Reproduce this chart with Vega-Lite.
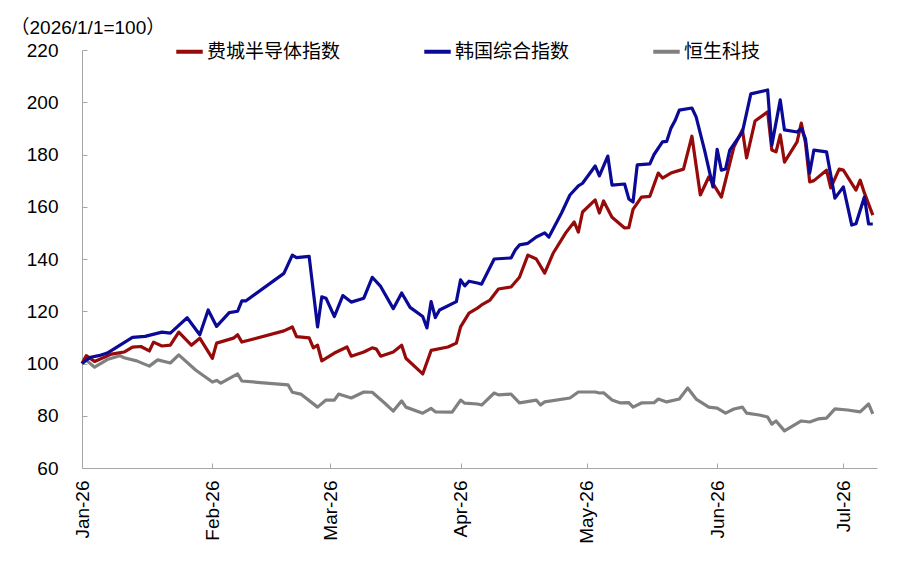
{
  "$schema": "https://vega.github.io/schema/vega-lite/v6.json",
  "width": 795,
  "height": 418,
  "autosize": {"type": "none"},
  "padding": {"left": 82, "top": 50, "right": 23, "bottom": 94},
  "background": "white",
  "config": {"view": {"stroke": null}, "font": "Liberation Sans"},
  "data": {
    "format": {"parse": {"d": "date:'%Y-%m-%d'"}},
    "values": [
      {"s": "恒生科技", "d": "2026-01-01", "v": 100},
      {"s": "恒生科技", "d": "2026-01-02", "v": 101.3},
      {"s": "恒生科技", "d": "2026-01-04", "v": 98.6},
      {"s": "恒生科技", "d": "2026-01-07", "v": 101.5},
      {"s": "恒生科技", "d": "2026-01-10", "v": 103},
      {"s": "恒生科技", "d": "2026-01-11", "v": 102.2},
      {"s": "恒生科技", "d": "2026-01-14", "v": 101},
      {"s": "恒生科技", "d": "2026-01-17", "v": 99},
      {"s": "恒生科技", "d": "2026-01-19", "v": 101.4},
      {"s": "恒生科技", "d": "2026-01-22", "v": 100.2},
      {"s": "恒生科技", "d": "2026-01-24", "v": 103.3},
      {"s": "恒生科技", "d": "2026-01-28", "v": 97.5},
      {"s": "恒生科技", "d": "2026-02-01", "v": 92.9},
      {"s": "恒生科技", "d": "2026-02-02", "v": 93.5},
      {"s": "恒生科技", "d": "2026-02-03", "v": 92.5},
      {"s": "恒生科技", "d": "2026-02-07", "v": 96},
      {"s": "恒生科技", "d": "2026-02-08", "v": 93.3},
      {"s": "恒生科技", "d": "2026-02-19", "v": 91.8},
      {"s": "恒生科技", "d": "2026-02-20", "v": 89},
      {"s": "恒生科技", "d": "2026-02-22", "v": 88.3},
      {"s": "恒生科技", "d": "2026-02-26", "v": 83.3},
      {"s": "恒生科技", "d": "2026-02-28", "v": 86},
      {"s": "恒生科技", "d": "2026-03-02", "v": 86},
      {"s": "恒生科技", "d": "2026-03-03", "v": 88.3},
      {"s": "恒生科技", "d": "2026-03-06", "v": 86.8},
      {"s": "恒生科技", "d": "2026-03-09", "v": 89.1},
      {"s": "恒生科技", "d": "2026-03-11", "v": 89},
      {"s": "恒生科技", "d": "2026-03-14", "v": 84.8},
      {"s": "恒生科技", "d": "2026-03-16", "v": 81.8},
      {"s": "恒生科技", "d": "2026-03-18", "v": 85.7},
      {"s": "恒生科技", "d": "2026-03-19", "v": 83.3},
      {"s": "恒生科技", "d": "2026-03-23", "v": 81},
      {"s": "恒生科技", "d": "2026-03-25", "v": 82.8},
      {"s": "恒生科技", "d": "2026-03-26", "v": 81.5},
      {"s": "恒生科技", "d": "2026-03-30", "v": 81.4},
      {"s": "恒生科技", "d": "2026-04-01", "v": 86},
      {"s": "恒生科技", "d": "2026-04-02", "v": 84.8},
      {"s": "恒生科技", "d": "2026-04-05", "v": 84.5},
      {"s": "恒生科技", "d": "2026-04-06", "v": 84.1},
      {"s": "恒生科技", "d": "2026-04-09", "v": 88.7},
      {"s": "恒生科技", "d": "2026-04-10", "v": 88},
      {"s": "恒生科技", "d": "2026-04-13", "v": 88.3},
      {"s": "恒生科技", "d": "2026-04-15", "v": 84.9},
      {"s": "恒生科技", "d": "2026-04-19", "v": 86},
      {"s": "恒生科技", "d": "2026-04-20", "v": 84.1},
      {"s": "恒生科技", "d": "2026-04-21", "v": 85.3},
      {"s": "恒生科技", "d": "2026-04-27", "v": 86.8},
      {"s": "恒生科技", "d": "2026-04-29", "v": 89.1},
      {"s": "恒生科技", "d": "2026-05-03", "v": 89.1},
      {"s": "恒生科技", "d": "2026-05-04", "v": 88.7},
      {"s": "恒生科技", "d": "2026-05-05", "v": 88.8},
      {"s": "恒生科技", "d": "2026-05-07", "v": 86},
      {"s": "恒生科技", "d": "2026-05-09", "v": 84.9},
      {"s": "恒生科技", "d": "2026-05-11", "v": 85},
      {"s": "恒生科技", "d": "2026-05-12", "v": 83.3},
      {"s": "恒生科技", "d": "2026-05-14", "v": 84.9},
      {"s": "恒生科技", "d": "2026-05-17", "v": 85},
      {"s": "恒生科技", "d": "2026-05-18", "v": 86.4},
      {"s": "恒生科技", "d": "2026-05-20", "v": 85.3},
      {"s": "恒生科技", "d": "2026-05-23", "v": 86.4},
      {"s": "恒生科技", "d": "2026-05-25", "v": 90.6},
      {"s": "恒生科技", "d": "2026-05-27", "v": 86.4},
      {"s": "恒生科技", "d": "2026-05-30", "v": 83.3},
      {"s": "恒生科技", "d": "2026-06-01", "v": 82.9},
      {"s": "恒生科技", "d": "2026-06-03", "v": 81},
      {"s": "恒生科技", "d": "2026-06-05", "v": 82.6},
      {"s": "恒生科技", "d": "2026-06-07", "v": 83.3},
      {"s": "恒生科技", "d": "2026-06-08", "v": 81},
      {"s": "恒生科技", "d": "2026-06-11", "v": 80.3},
      {"s": "恒生科技", "d": "2026-06-13", "v": 79.5},
      {"s": "恒生科技", "d": "2026-06-14", "v": 76.8},
      {"s": "恒生科技", "d": "2026-06-15", "v": 78},
      {"s": "恒生科技", "d": "2026-06-17", "v": 74.2},
      {"s": "恒生科技", "d": "2026-06-21", "v": 78},
      {"s": "恒生科技", "d": "2026-06-23", "v": 77.6},
      {"s": "恒生科技", "d": "2026-06-25", "v": 78.8},
      {"s": "恒生科技", "d": "2026-06-27", "v": 79.1},
      {"s": "恒生科技", "d": "2026-06-29", "v": 82.6},
      {"s": "恒生科技", "d": "2026-07-02", "v": 82.2},
      {"s": "恒生科技", "d": "2026-07-05", "v": 81.5},
      {"s": "恒生科技", "d": "2026-07-07", "v": 84.5},
      {"s": "恒生科技", "d": "2026-07-08", "v": 80.7},

      {"s": "费城半导体指数", "d": "2026-01-01", "v": 100},
      {"s": "费城半导体指数", "d": "2026-01-02", "v": 103},
      {"s": "费城半导体指数", "d": "2026-01-04", "v": 100.8},
      {"s": "费城半导体指数", "d": "2026-01-08", "v": 103.6},
      {"s": "费城半导体指数", "d": "2026-01-11", "v": 104.4},
      {"s": "费城半导体指数", "d": "2026-01-13", "v": 106.3},
      {"s": "费城半导体指数", "d": "2026-01-15", "v": 106.5},
      {"s": "费城半导体指数", "d": "2026-01-17", "v": 104.8},
      {"s": "费城半导体指数", "d": "2026-01-18", "v": 108.2},
      {"s": "费城半导体指数", "d": "2026-01-20", "v": 106.7},
      {"s": "费城半导体指数", "d": "2026-01-22", "v": 107},
      {"s": "费城半导体指数", "d": "2026-01-24", "v": 112},
      {"s": "费城半导体指数", "d": "2026-01-27", "v": 107},
      {"s": "费城半导体指数", "d": "2026-01-29", "v": 109.7},
      {"s": "费城半导体指数", "d": "2026-02-01", "v": 102},
      {"s": "费城半导体指数", "d": "2026-02-02", "v": 107.8},
      {"s": "费城半导体指数", "d": "2026-02-06", "v": 109.7},
      {"s": "费城半导体指数", "d": "2026-02-07", "v": 111},
      {"s": "费城半导体指数", "d": "2026-02-08", "v": 108.2},
      {"s": "费城半导体指数", "d": "2026-02-18", "v": 112.5},
      {"s": "费城半导体指数", "d": "2026-02-20", "v": 114},
      {"s": "费城半导体指数", "d": "2026-02-21", "v": 110.3},
      {"s": "费城半导体指数", "d": "2026-02-24", "v": 109.8},
      {"s": "费城半导体指数", "d": "2026-02-25", "v": 106},
      {"s": "费城半导体指数", "d": "2026-02-26", "v": 107},
      {"s": "费城半导体指数", "d": "2026-02-27", "v": 101},
      {"s": "费城半导体指数", "d": "2026-03-02", "v": 104},
      {"s": "费城半导体指数", "d": "2026-03-05", "v": 106.3},
      {"s": "费城半导体指数", "d": "2026-03-06", "v": 102.8},
      {"s": "费城半导体指数", "d": "2026-03-09", "v": 104.4},
      {"s": "费城半导体指数", "d": "2026-03-11", "v": 106},
      {"s": "费城半导体指数", "d": "2026-03-12", "v": 105.5},
      {"s": "费城半导体指数", "d": "2026-03-13", "v": 102.8},
      {"s": "费城半导体指数", "d": "2026-03-16", "v": 104.4},
      {"s": "费城半导体指数", "d": "2026-03-18", "v": 107},
      {"s": "费城半导体指数", "d": "2026-03-19", "v": 102},
      {"s": "费城半导体指数", "d": "2026-03-23", "v": 96},
      {"s": "费城半导体指数", "d": "2026-03-25", "v": 105},
      {"s": "费城半导体指数", "d": "2026-03-29", "v": 106.3},
      {"s": "费城半导体指数", "d": "2026-03-31", "v": 107.8},
      {"s": "费城半导体指数", "d": "2026-04-01", "v": 114},
      {"s": "费城半导体指数", "d": "2026-04-03", "v": 119.3},
      {"s": "费城半导体指数", "d": "2026-04-05", "v": 121.2},
      {"s": "费城半导体指数", "d": "2026-04-06", "v": 122.4},
      {"s": "费城半导体指数", "d": "2026-04-08", "v": 124.3},
      {"s": "费城半导体指数", "d": "2026-04-10", "v": 128.5},
      {"s": "费城半导体指数", "d": "2026-04-13", "v": 129.3},
      {"s": "费城半导体指数", "d": "2026-04-15", "v": 133},
      {"s": "费城半导体指数", "d": "2026-04-17", "v": 141.5},
      {"s": "费城半导体指数", "d": "2026-04-19", "v": 140},
      {"s": "费城半导体指数", "d": "2026-04-21", "v": 134.6},
      {"s": "费城半导体指数", "d": "2026-04-23", "v": 142.2},
      {"s": "费城半导体指数", "d": "2026-04-26", "v": 150},
      {"s": "费城半导体指数", "d": "2026-04-28", "v": 154.2},
      {"s": "费城半导体指数", "d": "2026-04-29", "v": 150.3},
      {"s": "费城半导体指数", "d": "2026-04-30", "v": 158},
      {"s": "费城半导体指数", "d": "2026-05-03", "v": 162.6},
      {"s": "费城半导体指数", "d": "2026-05-04", "v": 157.6},
      {"s": "费城半导体指数", "d": "2026-05-05", "v": 162.2},
      {"s": "费城半导体指数", "d": "2026-05-07", "v": 156},
      {"s": "费城半导体指数", "d": "2026-05-10", "v": 151.9},
      {"s": "费城半导体指数", "d": "2026-05-11", "v": 152},
      {"s": "费城半导体指数", "d": "2026-05-12", "v": 159},
      {"s": "费城半导体指数", "d": "2026-05-14", "v": 163.7},
      {"s": "费城半导体指数", "d": "2026-05-16", "v": 164},
      {"s": "费城半导体指数", "d": "2026-05-18", "v": 172.9},
      {"s": "费城半导体指数", "d": "2026-05-19", "v": 171},
      {"s": "费城半导体指数", "d": "2026-05-21", "v": 172.9},
      {"s": "费城半导体指数", "d": "2026-05-24", "v": 174.4},
      {"s": "费城半导体指数", "d": "2026-05-26", "v": 187},
      {"s": "费城半导体指数", "d": "2026-05-28", "v": 164.5},
      {"s": "费城半导体指数", "d": "2026-05-30", "v": 171.4},
      {"s": "费城半导体指数", "d": "2026-06-02", "v": 163.7},
      {"s": "费城半导体指数", "d": "2026-06-05", "v": 183},
      {"s": "费城半导体指数", "d": "2026-06-07", "v": 189.4},
      {"s": "费城半导体指数", "d": "2026-06-08", "v": 178.7},
      {"s": "费城半导体指数", "d": "2026-06-10", "v": 192.8},
      {"s": "费城半导体指数", "d": "2026-06-13", "v": 196.3},
      {"s": "费城半导体指数", "d": "2026-06-14", "v": 181.7},
      {"s": "费城半导体指数", "d": "2026-06-15", "v": 181},
      {"s": "费城半导体指数", "d": "2026-06-16", "v": 187.5},
      {"s": "费城半导体指数", "d": "2026-06-17", "v": 177.1},
      {"s": "费城半导体指数", "d": "2026-06-20", "v": 184.8},
      {"s": "费城半导体指数", "d": "2026-06-21", "v": 192},
      {"s": "费城半导体指数", "d": "2026-06-22", "v": 184.4},
      {"s": "费城半导体指数", "d": "2026-06-23", "v": 169.5},
      {"s": "费城半导体指数", "d": "2026-06-24", "v": 170},
      {"s": "费城半导体指数", "d": "2026-06-27", "v": 174},
      {"s": "费城半导体指数", "d": "2026-06-28", "v": 167.2},
      {"s": "费城半导体指数", "d": "2026-06-30", "v": 174.4},
      {"s": "费城半导体指数", "d": "2026-07-01", "v": 174},
      {"s": "费城半导体指数", "d": "2026-07-04", "v": 166.4},
      {"s": "费城半导体指数", "d": "2026-07-05", "v": 170.2},
      {"s": "费城半导体指数", "d": "2026-07-06", "v": 165.3},
      {"s": "费城半导体指数", "d": "2026-07-08", "v": 156.8},

      {"s": "韩国综合指数", "d": "2026-01-01", "v": 100},
      {"s": "韩国综合指数", "d": "2026-01-03", "v": 102.4},
      {"s": "韩国综合指数", "d": "2026-01-05", "v": 103},
      {"s": "韩国综合指数", "d": "2026-01-07", "v": 104},
      {"s": "韩国综合指数", "d": "2026-01-09", "v": 106},
      {"s": "韩国综合指数", "d": "2026-01-11", "v": 108},
      {"s": "韩国综合指数", "d": "2026-01-13", "v": 110},
      {"s": "韩国综合指数", "d": "2026-01-16", "v": 110.4},
      {"s": "韩国综合指数", "d": "2026-01-20", "v": 112},
      {"s": "韩国综合指数", "d": "2026-01-22", "v": 111.6},
      {"s": "韩国综合指数", "d": "2026-01-26", "v": 117.5},
      {"s": "韩国综合指数", "d": "2026-01-29", "v": 111},
      {"s": "韩国综合指数", "d": "2026-01-31", "v": 120.5},
      {"s": "韩国综合指数", "d": "2026-02-02", "v": 114.2},
      {"s": "韩国综合指数", "d": "2026-02-05", "v": 119.5},
      {"s": "韩国综合指数", "d": "2026-02-07", "v": 120},
      {"s": "韩国综合指数", "d": "2026-02-08", "v": 124},
      {"s": "韩国综合指数", "d": "2026-02-09", "v": 124},
      {"s": "韩国综合指数", "d": "2026-02-18", "v": 134.5},
      {"s": "韩国综合指数", "d": "2026-02-20", "v": 141.5},
      {"s": "韩国综合指数", "d": "2026-02-21", "v": 140.5},
      {"s": "韩国综合指数", "d": "2026-02-24", "v": 141},
      {"s": "韩国综合指数", "d": "2026-02-26", "v": 114},
      {"s": "韩国综合指数", "d": "2026-02-27", "v": 125.5},
      {"s": "韩国综合指数", "d": "2026-02-28", "v": 125},
      {"s": "韩国综合指数", "d": "2026-03-02", "v": 118},
      {"s": "韩国综合指数", "d": "2026-03-04", "v": 126},
      {"s": "韩国综合指数", "d": "2026-03-06", "v": 123.5},
      {"s": "韩国综合指数", "d": "2026-03-09", "v": 125},
      {"s": "韩国综合指数", "d": "2026-03-11", "v": 133},
      {"s": "韩国综合指数", "d": "2026-03-13", "v": 129.5},
      {"s": "韩国综合指数", "d": "2026-03-16", "v": 121},
      {"s": "韩国综合指数", "d": "2026-03-18", "v": 127},
      {"s": "韩国综合指数", "d": "2026-03-20", "v": 121.5},
      {"s": "韩国综合指数", "d": "2026-03-23", "v": 118},
      {"s": "韩国综合指数", "d": "2026-03-24", "v": 113.6},
      {"s": "韩国综合指数", "d": "2026-03-25", "v": 123.7},
      {"s": "韩国综合指数", "d": "2026-03-26", "v": 117.6},
      {"s": "韩国综合指数", "d": "2026-03-27", "v": 120.5},
      {"s": "韩国综合指数", "d": "2026-03-31", "v": 123.7},
      {"s": "韩国综合指数", "d": "2026-04-01", "v": 132},
      {"s": "韩国综合指数", "d": "2026-04-02", "v": 129.7},
      {"s": "韩国综合指数", "d": "2026-04-03", "v": 131.5},
      {"s": "韩国综合指数", "d": "2026-04-05", "v": 130.8},
      {"s": "韩国综合指数", "d": "2026-04-06", "v": 130.4},
      {"s": "韩国综合指数", "d": "2026-04-09", "v": 140},
      {"s": "韩国综合指数", "d": "2026-04-13", "v": 140.4},
      {"s": "韩国综合指数", "d": "2026-04-14", "v": 143.4},
      {"s": "韩国综合指数", "d": "2026-04-15", "v": 145.4},
      {"s": "韩国综合指数", "d": "2026-04-17", "v": 146},
      {"s": "韩国综合指数", "d": "2026-04-19", "v": 148.4},
      {"s": "韩国综合指数", "d": "2026-04-21", "v": 150},
      {"s": "韩国综合指数", "d": "2026-04-22", "v": 148.4},
      {"s": "韩国综合指数", "d": "2026-04-25", "v": 157.6},
      {"s": "韩国综合指数", "d": "2026-04-27", "v": 164.5},
      {"s": "韩国综合指数", "d": "2026-04-29", "v": 168},
      {"s": "韩国综合指数", "d": "2026-04-30", "v": 169},
      {"s": "韩国综合指数", "d": "2026-05-03", "v": 175.6},
      {"s": "韩国综合指数", "d": "2026-05-04", "v": 171.8},
      {"s": "韩国综合指数", "d": "2026-05-06", "v": 179.4},
      {"s": "韩国综合指数", "d": "2026-05-07", "v": 168.3},
      {"s": "韩国综合指数", "d": "2026-05-10", "v": 168.7},
      {"s": "韩国综合指数", "d": "2026-05-11", "v": 163},
      {"s": "韩国综合指数", "d": "2026-05-12", "v": 161.8},
      {"s": "韩国综合指数", "d": "2026-05-13", "v": 176},
      {"s": "韩国综合指数", "d": "2026-05-16", "v": 176.4},
      {"s": "韩国综合指数", "d": "2026-05-17", "v": 180},
      {"s": "韩国综合指数", "d": "2026-05-19", "v": 184.8},
      {"s": "韩国综合指数", "d": "2026-05-20", "v": 185},
      {"s": "韩国综合指数", "d": "2026-05-21", "v": 190},
      {"s": "韩国综合指数", "d": "2026-05-22", "v": 193},
      {"s": "韩国综合指数", "d": "2026-05-23", "v": 197},
      {"s": "韩国综合指数", "d": "2026-05-26", "v": 197.8},
      {"s": "韩国综合指数", "d": "2026-05-27", "v": 194.4},
      {"s": "韩国综合指数", "d": "2026-05-29", "v": 181.7},
      {"s": "韩国综合指数", "d": "2026-05-31", "v": 167.6},
      {"s": "韩国综合指数", "d": "2026-06-01", "v": 182},
      {"s": "韩国综合指数", "d": "2026-06-02", "v": 174},
      {"s": "韩国综合指数", "d": "2026-06-03", "v": 174.5},
      {"s": "韩国综合指数", "d": "2026-06-04", "v": 181.7},
      {"s": "韩国综合指数", "d": "2026-06-07", "v": 188.6},
      {"s": "韩国综合指数", "d": "2026-06-09", "v": 203.2},
      {"s": "韩国综合指数", "d": "2026-06-13", "v": 204.7},
      {"s": "韩国综合指数", "d": "2026-06-14", "v": 183.6},
      {"s": "韩国综合指数", "d": "2026-06-16", "v": 200.9},
      {"s": "韩国综合指数", "d": "2026-06-17", "v": 189.4},
      {"s": "韩国综合指数", "d": "2026-06-20", "v": 188.6},
      {"s": "韩国综合指数", "d": "2026-06-21", "v": 190},
      {"s": "韩国综合指数", "d": "2026-06-22", "v": 186},
      {"s": "韩国综合指数", "d": "2026-06-23", "v": 172.9},
      {"s": "韩国综合指数", "d": "2026-06-24", "v": 181.7},
      {"s": "韩国综合指数", "d": "2026-06-27", "v": 181},
      {"s": "韩国综合指数", "d": "2026-06-29", "v": 163.3},
      {"s": "韩国综合指数", "d": "2026-07-01", "v": 167.6},
      {"s": "韩国综合指数", "d": "2026-07-03", "v": 153},
      {"s": "韩国综合指数", "d": "2026-07-04", "v": 153.5},
      {"s": "韩国综合指数", "d": "2026-07-06", "v": 163.7},
      {"s": "韩国综合指数", "d": "2026-07-07", "v": 153.4},
      {"s": "韩国综合指数", "d": "2026-07-08", "v": 153.4}
    ]
  },
  "mark": {"type": "line", "strokeWidth": 3.2, "strokeJoin": "round"},
  "encoding": {
    "x": {
      "field": "d",
      "type": "temporal",
      "scale": {"domain": [{"year": 2026, "month": 1, "date": 1}, {"year": 2026, "month": 7, "date": 9}]},
      "axis": {
        "title": null,
        "format": "%b-%y",
        "tickCount": {"interval": "month", "step": 1},
        "labelAngle": 270,
        "labelAlign": "right",
        "labelBaseline": "middle",
        "labelFontSize": 19,
        "labelColor": "#000000",
        "labelPadding": 17,
        "labelFlush": false,
        "labelOverlap": false,
        "tickSize": -5,
        "tickColor": "#a6a6a6",
        "domainColor": "#a6a6a6",
        "grid": false
      }
    },
    "y": {
      "field": "v",
      "type": "quantitative",
      "scale": {"domain": [60, 220], "nice": false, "zero": false},
      "axis": {
        "values": [60, 80, 100, 120, 140, 160, 180, 200, 220],
        "labelFontSize": 19,
        "labelColor": "#000000",
        "labelPadding": 29,
        "tickSize": -5,
        "tickColor": "#a6a6a6",
        "domainColor": "#a6a6a6",
        "grid": false,
        "title": "（2026/1/1=100）",
        "titleFont": "Liberation Sans, Noto Sans CJK SC",
        "titleFontSize": 19,
        "titleFontWeight": "normal",
        "titleColor": "#000000",
        "titleAngle": 0,
        "titleAlign": "left",
        "titleBaseline": "alphabetic",
        "titleX": -72,
        "titleY": -17
      }
    },
    "color": {
      "field": "s",
      "type": "nominal",
      "scale": {
        "domain": ["费城半导体指数", "韩国综合指数", "恒生科技"],
        "range": ["#960a0a", "#0a0a96", "#808080"]
      },
      "legend": {
        "title": null,
        "orient": "none",
        "direction": "horizontal",
        "legendX": 92,
        "legendY": -14,
        "padding": 0,
        "symbolType": "stroke",
        "symbolSize": 700,
        "symbolStrokeWidth": 4,
        "labelFont": "Noto Sans CJK SC",
        "labelFontSize": 19,
        "labelColor": "#000000",
        "labelOffset": 2,
        "labelLimit": 300,
        "columnPadding": 75
      }
    }
  }
}
